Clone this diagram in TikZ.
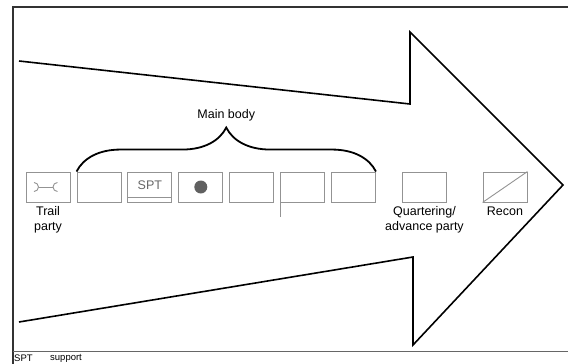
\documentclass[tikz,border=0pt]{standalone}
\usepackage{fontspec}
\setmainfont{Liberation Sans}
\usetikzlibrary{positioning,decorations.pathreplacing}

\begin{document}
\begin{tikzpicture}[x=1pt,y=-1pt,
	unit/.style={draw=gray!85,line width=0.9pt,minimum width=44pt,
		minimum height=30pt,inner sep=0pt},
	sym/.style={draw=gray!85,line width=0.9pt},
	lbl/.style={font=\fontsize{12.5}{15}\selectfont,align=center,inner sep=0pt}]
	\useasboundingbox (0,0) rectangle (568,364);
	\draw [line width=1.2pt,black!80] (568,7)--(13,7)--(13,364);
	\draw [line width=1pt,black!60] (13,351)--(568,351);
	\draw [line width=1.6pt,line join=miter] (19,61)--(410,104)--(410,32)--(563,185)
		--(413,345)--(413,257)--(19,322);
	\node [unit] (0) at (48,187) {};
	\node [unit] (1) at (99,187) {};
	\node [unit, right=6pt of 1] (2) {};
	\node [unit, right=6pt of 2] (3) {};
	\node [unit, right=6pt of 3] (4) {};
	\node [unit, right=6pt of 4] (5) {};
	\node [unit, right=6pt of 5] (6) {};
	\node [unit] (7) at (424.5,187) {};
	\node [unit] (8) at (505,187) {};
	\draw [sym] (34,191.5) arc (90:-90:4.5);
	\draw [sym] (38.5,187)--(53,187);
	\draw [sym] (57.5,191.5) arc (90:270:4.5);
	\node [lbl, text=gray!80!black] at ([yshift=2pt]2.center) {SPT};
	\draw [sym] ([yshift=5pt]2.south west)--([yshift=5pt]2.south east);
	\fill [gray!75!black] (3.center) circle (6.5pt);
	\draw [sym] (5.south west)--++(0,15);
	\draw [sym] (8.south west)--(8.north east);
	\draw [decorate, decoration={brace, amplitude=44pt}, line width=1.8pt]
		(1.north west)--node [lbl, above=50pt] {Main body} (6.north east);
	\node [lbl, below=4pt of 0] {Trail\\party};
	\node [lbl, below=4pt of 7] {Quartering/\\advance party};
	\node [lbl, below=4pt of 8] {Recon};
	\node [anchor=west, font=\fontsize{9.5}{10}\selectfont, inner sep=0pt] (9) at (14,358) {SPT};
	\node [anchor=west, font=\fontsize{9.5}{10}\selectfont, inner sep=0pt] (10) at (50,358) {support};
\end{tikzpicture}
\end{document}
